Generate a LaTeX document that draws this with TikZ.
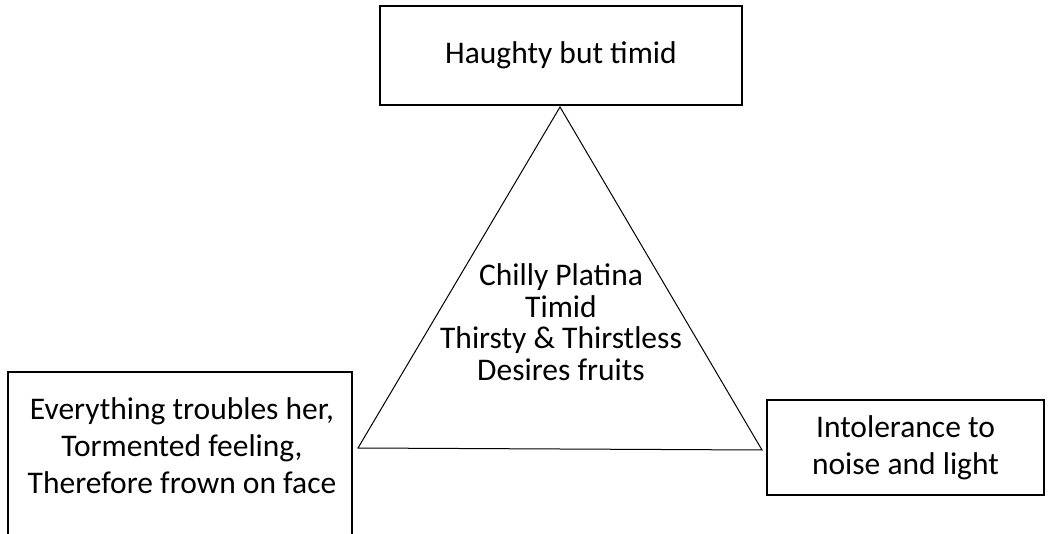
\documentclass[tikz,border=0pt]{standalone}
\usepackage{fontspec}
\setmainfont{Carlito}
\newcommand{\traitfont}{\fontsize{31.5}{37}\selectfont}
\newcommand{\corefont}{\fontsize{31.5}{31.5}\selectfont}
\tikzset{
  trait/base/.style={draw=black, line width=1.6pt, align=center,
    font=\traitfont, inner sep=0pt},
  trait/box/.style={trait/base},
  trait/text/.style={trait/base, draw=none},
  trait/core/.style={align=center, font=\corefont, inner sep=0pt},
  trait/frame/.style={draw=black, line width=1.6pt},
  trait/edge/.style={draw=black, line width=1pt, line join=miter},
}

\begin{document}
\begin{tikzpicture}[
  x=1pt, y=-1pt,
  box/.style={trait/box},
  edge/.style={trait/edge}
]
\useasboundingbox (0,0) rectangle (1052,534);
\node[box, minimum width=362pt, minimum height=99pt] (haughty) at (561,55.5) {Haughty but timid};
\coordinate (apex) at (560,107);
\coordinate (baseR) at (762,450);
\coordinate (baseL) at (358,448);
\draw[edge] (apex) -- (baseR) -- (baseL) -- cycle;
\node[trait/core] (mind) at (561,322) {Chilly Platina\\Timid\\Thirsty \& Thirstless\\Desires fruits};
\node[trait/text] (trouble) at (182,446) {Everything troubles her,\\Tormented feeling,\\Therefore frown on face};
\draw[trait/frame] (8,534) |- (352,372) -- (352,534);
\node[box, minimum width=277pt, minimum height=95pt] (noise) at (905.5,447.5) {Intolerance to\\noise and light};
\end{tikzpicture}
\end{document}
